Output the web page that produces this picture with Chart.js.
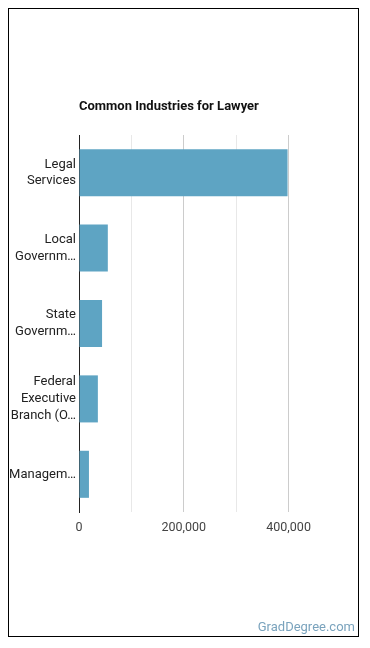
<!DOCTYPE html>
<html>
<head>
<meta charset="utf-8">
<script src="https://cdn.jsdelivr.net/npm/chart.js@4"></script>
<style>
  html, body { margin: 0; padding: 0; background: #fff; }
  #frame { position: absolute; left: 8px; top: 8px; width: 349px; height: 627px; border: 1px solid #000; }
  #c { position: absolute; left: 0; top: 0; }
  #src { position: absolute; right: 3px; bottom: 2px; font: 13px Roboto, sans-serif; color: #7aa3bd; }
</style>
</head>
<body>
<div id="frame">
  <canvas id="c" width="349" height="627"></canvas>
  <div id="src">GradDegree.com</div>
</div>
<script>
const categories = [
  ["Legal", "Services"],
  ["Local", "Governm…"],
  ["State", "Governm…"],
  ["Federal", "Executive", "Branch (O…"],
  ["Managem…"]
];
const employment = [398000, 55000, 44000, 36000, 19000];
const titleText = "Common Industries for Lawyer";
const xMax = 500000;
const xStep = 100000;

new Chart(document.getElementById('c'), {
  type: 'bar',
  data: {
    labels: categories,
    datasets: [{
      data: employment,
      backgroundColor: '#5ea4c3',
      borderWidth: 0,
      barPercentage: 0.78,
      categoryPercentage: 0.8
    }]
  },
  options: {
    indexAxis: 'y',
    responsive: false,
    animation: false,
    layout: { padding: { top: 90, right: 17, bottom: 94, left: 0 } },
    plugins: {
      legend: { display: false },
      tooltip: { enabled: false },
      title: {
        display: true,
        text: titleText,
        align: 'start',
        fullSize: false,
        color: '#111',
        font: { family: 'Roboto', size: 13, weight: 'bold' },
        padding: { top: 0, bottom: 20.4 }
      }
    },
    scales: {
      x: {
        min: 0,
        max: xMax,
        ticks: {
          stepSize: xStep,
          padding: 8,
          color: '#444',
          font: { family: 'Roboto', size: 12.5 },
          maxRotation: 0,
          autoSkip: false,
          callback: (v) => (v % 200000 === 0 && v < xMax) ? v.toLocaleString('en-US') : ''
        },
        grid: {
          drawTicks: false,
          color: (ctx) => {
            const v = ctx.tick ? ctx.tick.value : 0;
            if (v === 0 || v >= xMax) return 'rgba(0,0,0,0)';
            return v % 200000 === 0 ? '#cccccc' : '#e8e8e8';
          }
        },
        border: { display: false },
        afterFit: (s) => { s.height = 30; }
      },
      y: {
        ticks: {
          color: '#222',
          padding: 3,
          font: { family: 'Roboto', size: 13, lineHeight: 1.3 }
        },
        grid: { display: false, drawTicks: false },
        border: { display: true, color: '#222', width: 1 },
        afterFit: (s) => { s.width = 70; }
      }
    }
  }
});
</script>
</body>
</html>
